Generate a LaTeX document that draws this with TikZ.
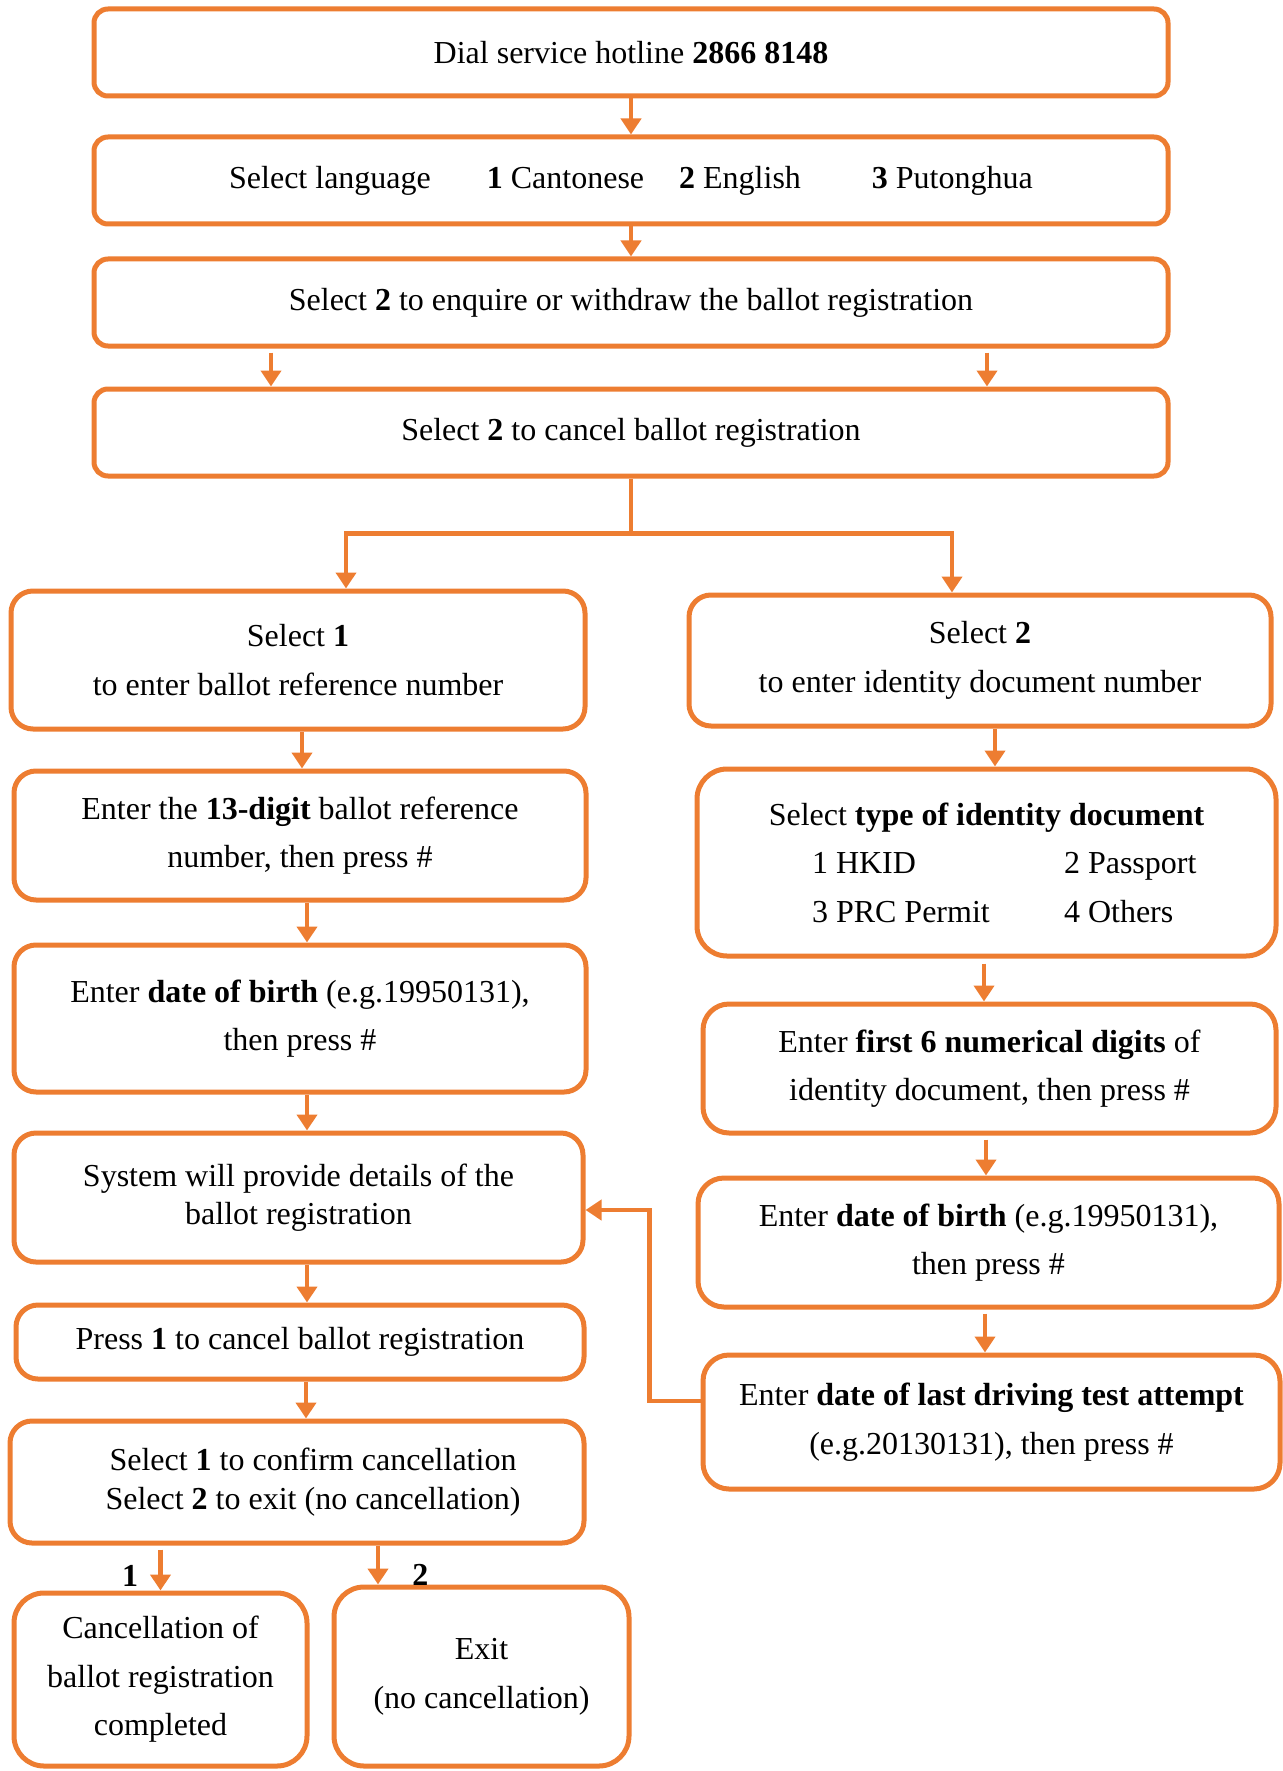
\documentclass[tikz,border=0pt]{standalone}
\usepackage{fontspec}
\setmainfont{Liberation Serif}
\usepackage{xcolor}
\usepackage{tikz}
\usetikzlibrary{arrows.meta}

\definecolor{boxorange}{HTML}{ED7D31}

\tikzset{
  box/.style={draw=boxorange, line width=2.5pt, rounded corners=7pt, align=center, inner sep=0pt,
    font=\fontsize{16}{24.3}\selectfont},
  arr/.style={draw=boxorange, line width=2.3pt, -{Triangle[width=10pt,length=8pt]}},
  conn/.style={draw=boxorange, line width=2.3pt},
  choice/.style={font=\fontsize{16}{20}\selectfont\bfseries, inner sep=0pt}
}

\begin{document}
\begin{tikzpicture}[x=0.5pt, y=-0.5pt]
            \useasboundingbox (0,0) rectangle (1282,1771);

            % Top row of wide boxes
            \node[box, minimum width=537pt, minimum height=43.5pt] (dial) at (631,52.5) {Dial service hotline \textbf{2866 8148}};
            \node[box, minimum width=537pt, minimum height=43.5pt] (lang) at (631,180.5) {Select language\hspace{28pt}\textbf{1} Cantonese\hspace{17.5pt}\textbf{2} English\hspace{35.5pt}\textbf{3} Putonghua};
            \node[box, minimum width=537pt, minimum height=43.5pt] (enq) at (631,302.5) {Select \textbf{2} to enquire or withdraw the ballot registration};
            \node[box, minimum width=537pt, minimum height=43.5pt] (cancel) at (631,432.5) {Select \textbf{2} to cancel ballot registration};

            % Left column
            \node[box, rounded corners=11pt, minimum width=287pt, minimum height=69pt] (refsel) at (298,660) {Select \textbf{1}\\to enter ballot reference number};
            \node[box, rounded corners=11pt, minimum width=286pt, minimum height=64.5pt] (refnum) at (300,835.5) {Enter the \textbf{13-digit} ballot reference\\number, then press \#};
            \node[box, rounded corners=11pt, minimum width=286pt, minimum height=73.5pt] (dobL) at (300,1018.5) {Enter \textbf{date of birth} (e.g.19950131),\\then press \#};
            \node[box, rounded corners=11pt, minimum width=284.5pt, minimum height=64.5pt, font=\fontsize{16}{18.8}\selectfont] (details) at (298.5,1197.5) {System will provide details of the\\ballot registration};
            \node[box, rounded corners=11pt, minimum width=284pt, minimum height=37pt] (press) at (300,1342) {Press \textbf{1} to cancel ballot registration};
            \node[box, rounded corners=11pt, minimum width=287pt, minimum height=61pt, font=\fontsize{16}{19.5}\selectfont] (confirm) at (297,1482) {\hspace*{16pt}Select \textbf{1} to confirm cancellation\\\hspace*{16pt}Select \textbf{2} to exit (no cancellation)};
            \node[box, rounded corners=15pt, minimum width=146.5pt, minimum height=86.5pt] (done) at (160.5,1679.5) {Cancellation of\\ballot registration\\completed};
            \node[box, rounded corners=15pt, minimum width=147.5pt, minimum height=89.5pt] (exit) at (481.5,1676.5) {Exit\\(no cancellation)};

            % Right column
            \node[box, rounded corners=11pt, minimum width=291pt, minimum height=65.5pt] (idsel) at (980,660.5) {Select \textbf{2}\\to enter identity document number};
            \node[box, rounded corners=15pt, minimum width=289.5pt, minimum height=93.5pt] (idtype) at (986.5,862.5) {Select \textbf{type of identity document}\\
              \hspace*{21.5pt}\makebox[126pt][l]{1 HKID}\makebox[70pt][l]{2 Passport}\\
              \hspace*{21.5pt}\makebox[126pt][l]{3 PRC Permit}\makebox[70pt][l]{4 Others}};
            \node[box, rounded corners=13pt, minimum width=286.5pt, minimum height=64.5pt] (iddigits) at (989.5,1068.5) {Enter \textbf{first 6 numerical digits} of\\identity document, then press \#};
            \node[box, rounded corners=13pt, minimum width=290.5pt, minimum height=64.5pt] (dobR) at (988.5,1242.5) {Enter \textbf{date of birth} (e.g.19950131),\\then press \#};
            \node[box, rounded corners=13pt, minimum width=288.5pt, minimum height=67pt] (drive) at (991.5,1422) {Enter \textbf{date of last driving test attempt}\\(e.g.20130131), then press \#};

            % Arrows between the top boxes
            \draw[arr] (dial.south) -- (lang.north);
            \draw[arr] (lang.south) -- (enq.north);
            \draw[arr] ([xshift=-180pt,yshift=-2pt]enq.south) -- ([xshift=-180pt]cancel.north);
            \draw[arr] ([xshift=178pt,yshift=-2pt]enq.south) -- ([xshift=178pt]cancel.north);

            % Split into the two columns
            \coordinate (split) at ([yshift=-27.5pt]cancel.south);
            \draw[conn] (cancel.south) -- (split);
            \draw[arr] (split) -| ([xshift=24pt]refsel.north);
            \draw[arr] (split) -| ([xshift=-14pt]idsel.north);

            % Left column arrows
            \draw[arr] ([xshift=2pt]refsel.south) -- ([xshift=1pt]refnum.north);
            \draw[arr] ([xshift=3.5pt]refnum.south) -- ([xshift=3.5pt]dobL.north);
            \draw[arr] ([xshift=3.5pt]dobL.south) -- ([xshift=4.25pt]details.north);
            \draw[arr] ([xshift=4.25pt]details.south) -- ([xshift=3.5pt]press.north);
            \draw[arr] ([xshift=3pt]press.south) -- ([xshift=4.5pt]confirm.north);
            \draw[arr] ([yshift=-2pt]confirm.south -| done.north) -- (done.north)
              node[choice, midway, left=10pt, yshift=-3pt] (one) {1};
            \draw[arr] (confirm.south -| 378,0) -- ([xshift=-51.75pt]exit.north)
              node[choice, midway, right=16pt, yshift=-5pt] (two) {2};

            % Right column arrows
            \draw[arr] ([xshift=7.5pt]idsel.south) -- ([xshift=7.5pt]idsel.south |- idtype.north);
            \draw[arr] ([xshift=-1.25pt,yshift=-2.5pt]idtype.south) -- ([xshift=-1.25pt]idtype.south |- iddigits.north);
            \draw[arr] ([xshift=-1.75pt,yshift=-2pt]iddigits.south) -- ([xshift=-1.75pt]iddigits.south |- dobR.north);
            \draw[arr] ([xshift=-1.75pt,yshift=-2pt]dobR.south) -- ([xshift=-1.75pt]dobR.south |- drive.north);

            % Feedback from the driving test box
            \draw[arr] ([yshift=10.5pt]drive.west) -- ++(-51,0) |- ([yshift=-6.25pt]details.east);
        \end{tikzpicture}
\end{document}
